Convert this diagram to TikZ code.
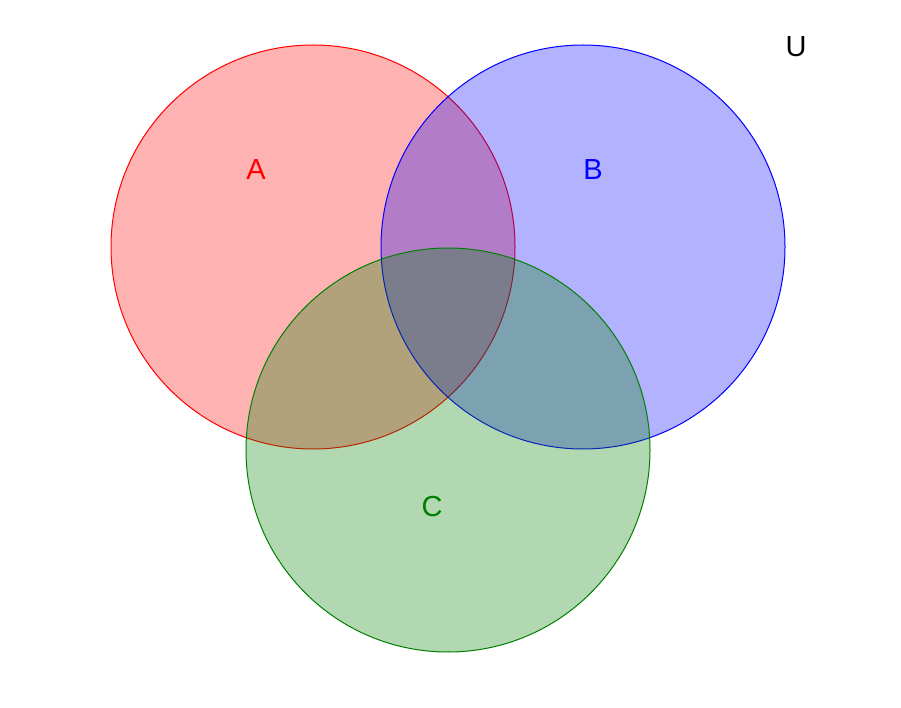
\documentclass[tikz,border=0pt]{standalone}
\usepackage{fontspec}
\setmainfont{Liberation Sans}
\definecolor{dgreen}{RGB}{0,128,0}
\begin{document}
\begin{tikzpicture}[x=1pt,y=-1pt,
  set/.style={circle,minimum size=404pt,inner sep=0pt,line width=1pt,fill opacity=0.3,text opacity=1},
  lbl/.style={font=\fontsize{29}{29}\selectfont}]
\useasboundingbox (0,0) rectangle (901,708);
\fill[white] (0,0) rectangle (901,708);
\node[set,draw=red,fill=red] (A) at (313,247) {};
\node[set,draw=blue,fill=blue] (B) at (583,247) {};
\node[set,draw=dgreen,fill=dgreen] (C) at (448,450) {};
\node[lbl,text=red] (la) at (256,170) {A};
\node[lbl,text=blue] (lb) at (593,170) {B};
\node[lbl,text=dgreen] (lc) at (432,507) {C};
\node[lbl] (lu) at (796,47) {U};
\end{tikzpicture}
\end{document}
